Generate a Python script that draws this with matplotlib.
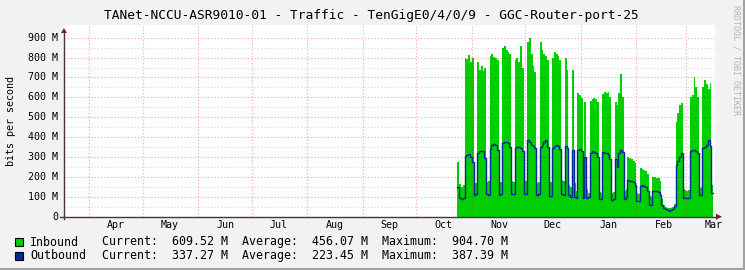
import numpy as np
import matplotlib.pyplot as plt
from matplotlib.patches import Rectangle
from matplotlib.lines import Line2D

# time span of the yearly graph and first day with data
start = np.datetime64('2022-03-18')
data_start = np.datetime64('2022-10-24')

# daily traffic, Mbit/s
inbound = [275, 165, 150, 160,
           800, 795, 815, 780, 800, 175, 170,
           780, 740, 760, 735, 750, 175, 180,
           810, 820, 805, 800, 790, 170, 175,
           850, 860, 840, 830, 820, 180, 175,
           790, 800, 780, 860, 750, 175, 180,
           880, 900, 820, 760, 730, 170, 175,
           880, 840, 820, 810, 790, 170, 175,
           800, 830, 820, 810, 790, 185, 180,
           800, 740, 160, 150, 737, 170, 130,
           620, 610, 595, 160, 575, 140, 120,
           580, 590, 595, 590, 575, 125, 120,
           615, 625, 620, 625, 600, 120, 125,
           575, 560, 620, 720, 600, 130, 140,
           300, 295, 290, 280, 270, 120, 115,
           245, 240, 235, 230, 215, 105, 100,
           200, 200, 195, 195, 180,
           90, 60, 50, 45, 45, 45, 50, 65,
           475, 520, 560, 570,
           140, 133, 130, 135,
           600, 610, 700, 650, 600, 143, 150,
           650, 685, 665, 640, 670, 160]
outbound = [150, 95, 90, 95,
            305, 310, 315, 300, 275, 110, 115,
            320, 330, 332, 330, 295, 112, 110,
            340, 362, 365, 360, 335, 110, 112,
            370, 378, 375, 372, 350, 115, 112,
            345, 352, 350, 345, 330, 112, 115,
            385, 375, 360, 355, 345, 110, 112,
            350, 360, 375, 385, 350, 105, 105,
            345, 355, 360, 355, 340, 113, 110,
            355, 345, 110, 100, 335, 100, 95,
            335, 340, 330, 95, 300, 95, 100,
            320, 330, 325, 320, 300, 90, 90,
            325, 320, 320, 310, 290, 85, 90,
            290, 250, 320, 335, 325, 90, 100,
            185, 180, 180, 175, 160, 80, 80,
            155, 158, 155, 150, 130, 60, 60,
            128, 130, 128, 125, 110,
            60, 45, 38, 32, 30, 32, 40, 55,
            260, 280, 300, 320,
            95, 94, 94, 95,
            330, 335, 335, 330, 320, 108, 110,
            345, 350, 360, 385, 355, 118]

month_labels = ['Apr', 'May', 'Jun', 'Jul', 'Aug', 'Sep', 'Oct', 'Nov', 'Dec', 'Jan', 'Feb', 'Mar']
y_ticks = [0, 100, 200, 300, 400, 500, 600, 700, 800, 900]
y_labels = ['0'] + ['%d M' % v for v in y_ticks[1:]]

series_names = ['Inbound', 'Outbound']
series_colors = ['#00CF00', '#002A97']
current = [609.52, 337.27]
average = [456.07, 223.45]
maximum = [904.70, 387.39]

W, H = 745, 270
top_px, bot_px, left_px, right_px = 25, 216.7, 64, 715
ymax = 900 * (bot_px - top_px) / (bot_px - 37.7)
n_days = 364
dx = n_days / (right_px - left_px)   # days per pixel
dy = ymax / (bot_px - top_px)        # Mbit per pixel
mono = 'DejaVu Sans Mono'

fig = plt.figure(figsize=(W / 100, H / 100), dpi=100)
fig.patch.set_facecolor('#f2f2f2')
ax = fig.add_axes([left_px / W, (H - bot_px) / H, (right_px - left_px) / W, (bot_px - top_px) / H])
ax.set_facecolor('white')
for s in ax.spines.values():
    s.set_visible(False)
ax.set_xticks([])
ax.set_yticks([])
ax.set_xlim(0, n_days)
ax.set_ylim(0, ymax)

days = (data_start - start).astype(int) + np.arange(len(inbound))
x = np.append(days, days[-1] + 1)
inb = np.append(inbound, inbound[-1])
outb = np.append(outbound, outbound[-1])
ax.fill_between(x, 0, inb, step='post', color=series_colors[0], lw=0, zorder=2)
ax.step(x, outb, where='post', color=series_colors[1], lw=1.0, zorder=4)

# grid
months = np.arange(np.datetime64('2022-04'), np.datetime64('2023-04'), dtype='datetime64[M]')
mdays = (months.astype('datetime64[D]') - start).astype(int)
for m in mdays:
    ax.axvline(m, color=(0.9, 0.1, 0.1, 0.4), ls=(0, (1, 2)), lw=0.8, zorder=3)
for v in y_ticks[1:]:
    ax.axhline(v, color=(0.9, 0.1, 0.1, 0.4), ls=(0, (1, 2)), lw=0.8, zorder=3)
    ax.axhline(v - 50, color=(0.5, 0.5, 0.5, 0.35), ls=(0, (1, 2)), lw=0.8, zorder=3)

# axes and arrows
axis_c = '#4a3535'
arrow_c = '#8c1c1c'
ax.plot([-4 * dx, n_days + 1 * dx], [0, 0], color=axis_c, lw=1, clip_on=False, zorder=5)
ax.plot([0, 0], [-2.5 * dy, (bot_px - 33) * dy], color=axis_c, lw=1, clip_on=False, zorder=5)
ax.fill([-3 * dx, 3 * dx, 0], [(bot_px - 33) * dy, (bot_px - 33) * dy, (bot_px - 28) * dy],
        color=arrow_c, lw=0, clip_on=False, zorder=6)
ax.fill([n_days + 1 * dx, n_days + 1 * dx, n_days + 7 * dx], [-3 * dy, 3 * dy, 0],
        color=arrow_c, lw=0, clip_on=False, zorder=6)

# tick labels
for v, lab in zip(y_ticks, y_labels):
    ax.text(-6 * dx, v, lab, ha='right', va='center', fontsize=7.2, family=mono, clip_on=False)
for m, lab in zip(mdays, month_labels):
    mid = m + 15.2
    ax.text(mid, -(225.5 - bot_px) * dy, lab, ha='center', va='center', fontsize=7.2, family=mono, clip_on=False)

fig.text(371 / W, 1 - 15 / H, 'TANet-NCCU-ASR9010-01 - Traffic - TenGigE0/4/0/9 - GGC-Router-port-25',
         ha='center', va='center', fontsize=9.3, family=mono)
fig.text(11 / W, 1 - 121 / H, 'bits per second', rotation=90, ha='center', va='center', fontsize=7.2, family=mono)
fig.text(736 / W, 1 - 60 / H, 'RRDTOOL / TOBI OETIKER', rotation=270, ha='center', va='center',
         fontsize=6, family=mono, color='#b4b4b4')

# legend
for i, name in enumerate(series_names):
    yc = 242 + i * 13.5
    fig.add_artist(Rectangle((15 / W, 1 - (yc + 4) / H), 8 / W, 8 / H, transform=fig.transFigure,
                             facecolor=series_colors[i], edgecolor='black', lw=0.8))
    fig.text(30 / W, 1 - yc / H, name, ha='left', va='center', fontsize=8.4, family=mono)
    line = 'Current:  %6.2f M  Average:  %6.2f M  Maximum:  %6.2f M' % (current[i], average[i], maximum[i])
    fig.text(101.7 / W, 1 - yc / H, line, ha='left', va='center', fontsize=8.4, family=mono)

# frame shading
fig.add_artist(Line2D([0, 1], [1 / H, 1 / H], transform=fig.transFigure, color='#a0a0a0', lw=1.5))
fig.add_artist(Line2D([1 - 1 / W, 1 - 1 / W], [0, 1], transform=fig.transFigure, color='#a0a0a0', lw=1.5))

fig.savefig('out.png', dpi=100, facecolor=fig.get_facecolor())
